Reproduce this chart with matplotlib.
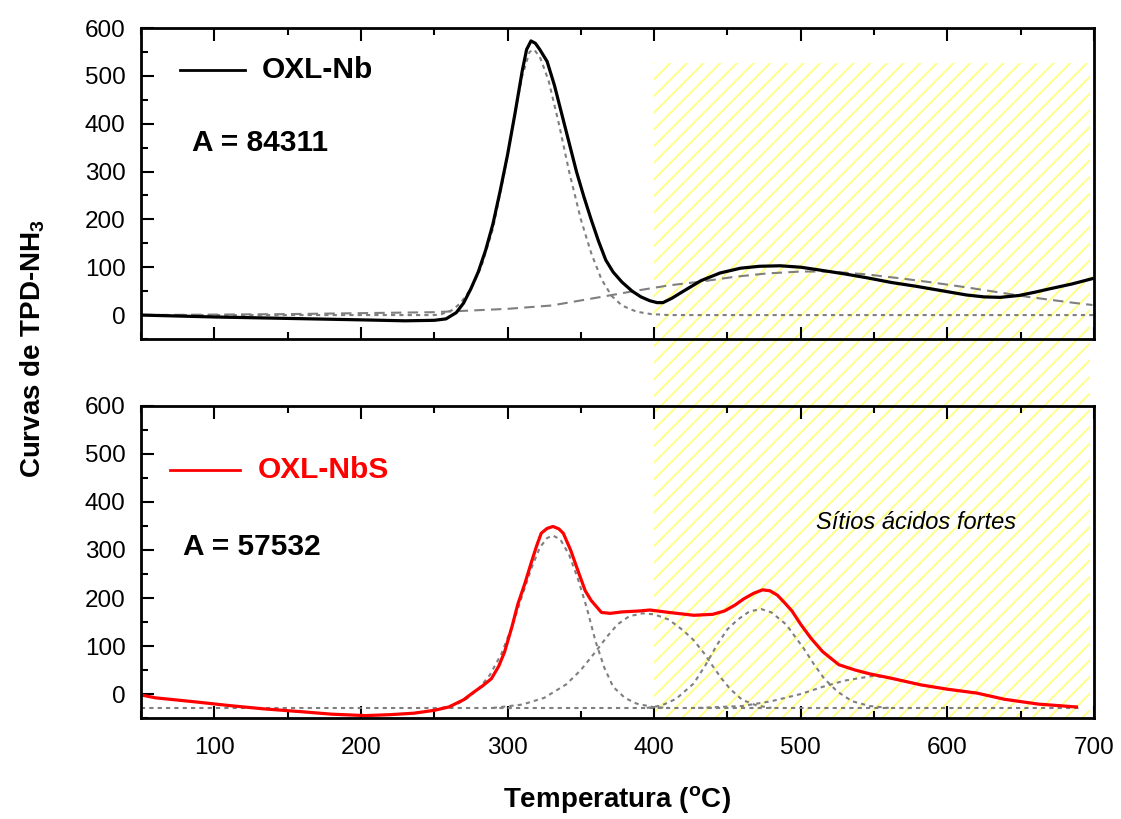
import matplotlib

matplotlib.use("Agg")
import matplotlib.pyplot as plt
from matplotlib.lines import Line2D
from matplotlib.patches import Rectangle
from matplotlib.ticker import MultipleLocator

plt.rcParams["font.family"] = ["Liberation Sans", "DejaVu Sans"]
plt.rcParams["mathtext.fontset"] = "custom"
plt.rcParams["mathtext.rm"] = "Liberation Sans"
plt.rcParams["mathtext.bf"] = "Liberation Sans:bold"
plt.rcParams["hatch.linewidth"] = 1.3

# OXL-Nb (top) measured curve
nb_temp = [50, 75, 100, 150, 200, 230, 250, 258, 265, 270, 275, 280, 285, 290,
           295, 300, 305, 310, 313, 316, 319, 322, 327, 332, 337, 342, 347, 352,
           357, 362, 367, 372, 378, 385, 391, 397, 402, 406, 412, 420, 432, 445,
           459, 472, 486, 500, 511, 530, 545, 562, 579, 596, 613, 625, 636, 649,
           660, 670, 685, 700]
nb_signal = [0, -2, -4, -7, -10, -12, -11, -8, 5, 25, 55, 90, 135, 190,
             260, 335, 420, 510, 555, 573, 568, 555, 530, 480, 420, 360, 300, 248,
             200, 155, 115, 90, 69, 50, 38, 30, 26, 26, 35, 50, 72, 88,
             98, 102, 103, 100, 95, 86, 78, 68, 60, 51, 42, 38, 37, 41,
             48, 55, 65, 77]

# OXL-Nb fitted components
nb_fit1_temp = [50, 150, 250, 255, 262, 268, 275, 282, 290, 298, 305, 310, 315,
                318, 322, 328, 335, 342, 350, 357, 364, 371, 378, 388, 398, 410, 700]
nb_fit1 = [0, 0, 0, 2, 10, 25, 55, 100, 180, 300, 420, 500, 550,
           555, 540, 490, 400, 300, 200, 130, 75, 40, 20, 7, 2, 0, 0]
nb_fit2_temp = [50, 150, 250, 300, 330, 364, 386, 410, 432, 455, 477, 500, 520,
                545, 570, 590, 615, 636, 655, 670, 685, 699]
nb_fit2 = [0, 2, 6, 13, 20, 38, 50, 62, 70, 80, 87, 91, 91,
           85, 76, 68, 57, 47, 38, 32, 26, 21]

# OXL-NbS (bottom) measured curve
nbs_temp = [50, 60, 89, 110, 134, 160, 180, 203, 220, 236, 250, 260, 270, 277,
            283, 289, 294, 298, 303, 307, 312, 316, 320, 323, 327, 331, 335, 338,
            343, 348, 353, 357, 364, 370, 378, 390, 397, 410, 427, 440, 448, 455,
            461, 468, 474, 479, 484, 489, 494, 500, 507, 515, 526, 537, 547, 560,
            582, 600, 620, 639, 662, 688]
nbs_signal = [-2, -8, -17, -24, -31, -37, -42, -45, -43, -40, -34, -27, -12, 4,
              17, 32, 58, 88, 140, 187, 232, 272, 310, 335, 345, 349, 344, 335,
              300, 257, 215, 195, 170, 168, 171, 173, 175, 170, 164, 166, 173, 185,
              198, 210, 217, 215, 206, 190, 173, 145, 116, 88, 61, 50, 42, 34,
              19, 10, 2, -11, -21, -27]

# OXL-NbS fitted components
nbs_base_temp = [50, 690]
nbs_base = [-29, -29]
nbs_fit1_temp = [255, 265, 272, 280, 288, 296, 303, 310, 316, 322, 327, 331, 336,
                 342, 348, 354, 360, 366, 372, 380, 388, 399, 410]
nbs_fit1 = [-29, -22, -10, 10, 40, 85, 140, 205, 260, 305, 325, 330, 322,
            290, 240, 180, 110, 55, 15, -8, -20, -27, -29]
nbs_fit2_temp = [290, 310, 325, 340, 350, 360, 368, 375, 383, 392, 400, 410, 420,
                 427, 434, 440, 446, 452, 460, 470, 480]
nbs_fit2 = [-29, -22, -8, 20, 50, 88, 120, 145, 162, 168, 166, 155, 132,
            112, 85, 58, 32, 10, -12, -24, -29]
nbs_fit3_temp = [395, 405, 415, 427, 435, 443, 450, 457, 465, 473, 480, 490, 496,
                 502, 509, 516, 525, 535, 547, 560]
nbs_fit3 = [-29, -24, -10, 22, 60, 103, 135, 155, 172, 177, 170, 145, 120,
            95, 62, 32, 5, -15, -25, -29]
nbs_fit4_temp = [430, 460, 480, 500, 515, 530, 550, 565, 582, 600, 620, 639, 662, 688]
nbs_fit4 = [-29, -25, -15, 0, 15, 28, 38, 31, 19, 10, 2, -11, -21, -27]

fig = plt.figure(figsize=(11.21, 8.19), dpi=100)
ax1 = fig.add_axes([0.1258, 0.5861, 0.8501, 0.3797])
ax2 = fig.add_axes([0.1258, 0.1233, 0.8501, 0.3810])

fit_style = dict(color="#7f7f7f", linewidth=1.5)
for ax in (ax1, ax2):
    ax.set_facecolor("none")
    ax.set_xlim(50, 700)
    ax.set_ylim(-50, 600)
    ax.xaxis.set_major_locator(MultipleLocator(100))
    ax.xaxis.set_minor_locator(MultipleLocator(50))
    ax.yaxis.set_major_locator(MultipleLocator(100))
    ax.yaxis.set_minor_locator(MultipleLocator(50))
    ax.tick_params(which="both", direction="in", top=True, right=False,
                   width=1.5, labelsize=17.5)
    ax.tick_params(which="major", length=9)
    ax.tick_params(which="minor", length=5)
    ax.tick_params(axis="x", pad=14)
    ax.tick_params(axis="y", pad=11)
    for spine in ax.spines.values():
        spine.set_linewidth(2)

ax1.tick_params(axis="x", labelbottom=False)

# top panel
ax1.plot(nb_fit1_temp, nb_fit1, dashes=(2, 2), **fit_style)
ax1.plot(nb_fit2_temp, nb_fit2, dashes=(5, 3), **fit_style)
ax1.plot(nb_temp, nb_signal, color="black", linewidth=2.3)
ax1.add_line(Line2D([0.041, 0.109], [0.865, 0.865], transform=ax1.transAxes,
                    color="black", linewidth=2))
ax1.text(0.127, 0.865, "OXL-Nb", transform=ax1.transAxes, fontsize=21.5,
         fontweight="bold", va="center")
ax1.text(0.0535, 0.63, "A = 84311", transform=ax1.transAxes, fontsize=21.5,
         fontweight="bold", va="center")

# bottom panel
ax2.plot(nbs_base_temp, nbs_base, dashes=(2, 2), **fit_style)
for t, v in ((nbs_fit1_temp, nbs_fit1), (nbs_fit2_temp, nbs_fit2),
             (nbs_fit3_temp, nbs_fit3), (nbs_fit4_temp, nbs_fit4)):
    ax2.plot(t, v, dashes=(2, 2), **fit_style)
ax2.plot(nbs_temp, nbs_signal, color="#ff0000", linewidth=2.3)
ax2.add_line(Line2D([0.030, 0.104], [0.795, 0.795], transform=ax2.transAxes,
                    color="#ff0000", linewidth=2))
ax2.text(0.123, 0.795, "OXL-NbS", transform=ax2.transAxes, fontsize=21.5,
         fontweight="bold", va="center", color="#ff0000")
ax2.text(0.044, 0.548, "A = 57532", transform=ax2.transAxes, fontsize=21.5,
         fontweight="bold", va="center")
ax2.text(0.813, 0.625, "Sítios ácidos fortes", transform=ax2.transAxes,
         fontsize=17, fontstyle="italic", ha="center", va="center")

# hatched strong-acid region spanning both panels
to_fig = fig.transFigure.inverted()
x0, y_top = to_fig.transform(ax1.transData.transform((400, 527)))
x1 = to_fig.transform(ax1.transData.transform((697, 0)))[0]
y_bot = ax2.get_position().y0
fig.patches.append(Rectangle((x0, y_bot), x1 - x0, y_top - y_bot,
                             transform=fig.transFigure, facecolor="none",
                             edgecolor="#ffff80", linewidth=0, hatch="//",
                             zorder=-1))

fig.text(0.0295, 0.575, "Curvas de TPD-NH$_\\mathbf{3}$", rotation=90,
         fontsize=20, fontweight="bold", ha="center", va="center")
fig.text(0.5504, 0.023, "Temperatura ($^\\mathbf{o}$C)", fontsize=20,
         fontweight="bold", ha="center", va="center")

fig.savefig("out.png", dpi=100)
